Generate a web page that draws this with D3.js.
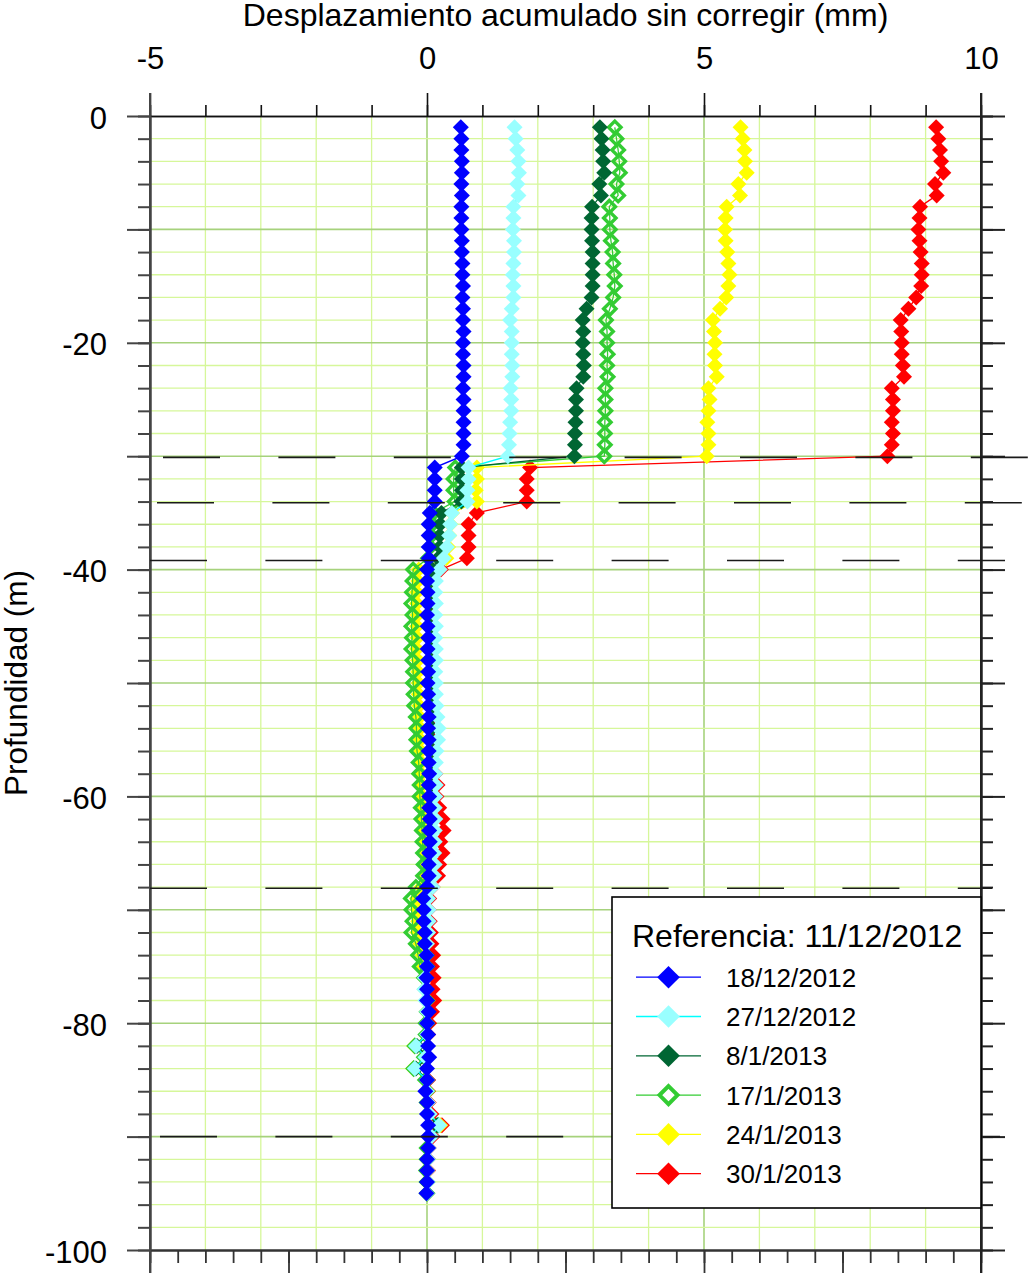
<!DOCTYPE html>
<html><head><meta charset="utf-8">
<script src="https://cdn.jsdelivr.net/npm/d3@7"></script>
<style>body{margin:0;background:#fff} svg{display:block;font-family:"Liberation Sans",Arial,sans-serif}</style>
</head><body><svg id="chart" width="1028" height="1275"></svg>
<script>
// ---------------- DATA ----------------
const depths = [-1,-2,-3,-4,-5,-6,-7,-8,-9,-10,-11,-12,-13,-14,-15,-16,-17,-18,-19,-20,
-21,-22,-23,-24,-25,-26,-27,-28,-29,-30,-31,-32,-33,-34,-35,-36,-37,-38,-39,-40,
-41,-42,-43,-44,-45,-46,-47,-48,-49,-50,-51,-52,-53,-54,-55,-56,-57,-58,-59,-60,
-61,-62,-63,-64,-65,-66,-67,-68,-69,-70,-71,-72,-73,-74,-75,-76,-77,-78,-79,-80,
-81,-82,-83,-84,-85,-86,-87,-88,-89,-90,-91,-92,-93,-94,-95];

const serie18dic2012 = [0.61,0.62,0.62,0.63,0.63,0.62,0.63,0.62,0.62,0.62,
0.63,0.63,0.64,0.64,0.65,0.64,0.65,0.65,0.66,0.65,
0.65,0.66,0.66,0.65,0.66,0.66,0.66,0.66,0.66,0.63,
0.14,0.14,0.14,0.14,0.05,0.03,0.03,0.03,0.03,0.00,
0.00,0.01,0.01,0.00,0.01,0.02,0.01,0.02,0.02,0.01,
0.02,0.02,0.03,0.02,0.03,0.03,0.03,0.04,0.03,0.04,
0.04,0.05,0.04,0.05,0.04,0.03,0.03,0.00,-0.07,-0.06,
-0.06,-0.04,-0.04,-0.01,0.00,-0.01,0.00,0.00,0.03,0.00,
0.02,0.02,0.04,0.00,0.00,-0.03,0.00,0.00,0.02,0.02,
0.02,0.00,0.00,0.00,-0.01];

const serie27dic2012 = [1.58,1.60,1.63,1.65,1.66,1.63,1.65,1.56,1.56,1.55,
1.57,1.57,1.56,1.55,1.56,1.56,1.53,1.50,1.53,1.53,
1.53,1.54,1.54,1.51,1.52,1.52,1.50,1.49,1.48,1.46,
0.75,0.75,0.73,0.73,0.45,0.42,0.40,0.36,0.30,0.23,
0.16,0.15,0.16,0.15,0.16,0.15,0.16,0.16,0.15,0.16,
0.16,0.17,0.19,0.21,0.20,0.17,0.16,0.15,0.16,0.15,
0.14,0.15,0.14,0.14,0.13,0.14,0.13,0.10,0.02,0.03,
0.03,0.02,0.00,-0.01,0.00,-0.04,-0.05,-0.03,0.00,0.00,
0.00,-0.20,-0.03,-0.22,0.00,0.00,0.02,0.05,0.22,0.08,
0.03,0.02,0.01,0.01,0.00];

const serie8ene2013 = [3.12,3.15,3.17,3.18,3.20,3.11,3.14,2.98,2.97,2.97,
2.98,2.99,2.99,2.99,2.99,2.97,2.88,2.81,2.82,2.81,
2.82,2.83,2.82,2.70,2.69,2.69,2.68,2.67,2.67,2.66,
0.63,0.63,0.63,0.62,0.26,0.24,0.23,0.23,0.20,0.10,
0.06,0.05,0.06,0.05,0.06,0.07,0.06,0.07,0.08,0.07,
0.08,0.09,0.08,0.09,0.08,0.07,0.08,0.07,0.06,0.07,
0.06,0.07,0.06,0.07,0.06,0.05,0.05,0.02,-0.04,-0.03,
-0.03,-0.02,-0.02,0.00,0.01,-0.02,-0.02,0.00,0.02,0.01,
0.01,-0.18,0.02,-0.20,0.01,-0.01,0.01,0.03,0.18,0.04,
0.02,0.01,0.00,0.00,0.00];

const serie17ene2013 = [3.39,3.42,3.45,3.47,3.48,3.42,3.45,3.29,3.30,3.30,
3.32,3.35,3.36,3.38,3.39,3.36,3.30,3.23,3.25,3.25,
3.26,3.25,3.26,3.22,3.22,3.22,3.21,3.21,3.21,3.20,
0.51,0.48,0.48,0.50,0.12,0.10,0.08,0.06,0.02,-0.25,
-0.26,-0.27,-0.28,-0.26,-0.28,-0.27,-0.28,-0.26,-0.25,-0.25,
-0.24,-0.23,-0.20,-0.19,-0.19,-0.18,-0.15,-0.14,-0.13,-0.13,
-0.11,-0.10,-0.09,-0.08,-0.07,-0.06,-0.07,-0.20,-0.29,-0.28,
-0.26,-0.28,-0.20,-0.16,-0.13,-0.05,-0.03,0.00,0.00,-0.02,
-0.02,-0.22,-0.05,-0.24,-0.03,0.00,0.00,0.02,0.20,0.05,
0.00,0.00,-0.01,0.00,0.00];

const serie24ene2013 = [5.66,5.70,5.73,5.74,5.77,5.62,5.65,5.41,5.39,5.38,
5.39,5.42,5.44,5.46,5.44,5.40,5.29,5.16,5.18,5.20,
5.19,5.20,5.23,5.08,5.10,5.08,5.06,5.08,5.08,5.05,
0.90,0.90,0.88,0.90,0.45,0.42,0.40,0.38,0.35,-0.15,
-0.16,-0.18,-0.18,-0.17,-0.18,-0.17,-0.18,-0.16,-0.16,-0.15,
-0.15,-0.14,-0.13,-0.12,-0.12,-0.11,-0.10,-0.10,-0.08,-0.08,
-0.06,-0.05,-0.04,-0.04,-0.03,-0.02,-0.03,-0.10,-0.18,-0.17,
-0.16,-0.17,-0.12,-0.08,-0.06,-0.02,-0.01,0.01,0.01,0.00,
0.00,-0.23,-0.03,-0.25,-0.01,0.01,0.01,0.04,0.24,0.06,
0.01,0.01,0.00,0.00,0.00];

const serie30ene2013 = [9.19,9.23,9.26,9.28,9.32,9.17,9.20,8.90,8.89,8.87,
8.89,8.91,8.93,8.93,8.92,8.83,8.69,8.55,8.56,8.57,
8.57,8.59,8.61,8.39,8.41,8.41,8.39,8.41,8.39,8.31,
1.86,1.80,1.80,1.80,0.90,0.75,0.75,0.75,0.72,0.25,
0.10,0.08,0.09,0.10,0.08,0.09,0.10,0.10,0.09,0.10,
0.10,0.09,0.10,0.08,0.10,0.10,0.12,0.15,0.19,0.17,
0.22,0.28,0.30,0.24,0.28,0.22,0.20,0.10,0.04,0.03,
0.05,0.07,0.08,0.11,0.09,0.12,0.10,0.13,0.09,0.04,
0.02,-0.22,0.01,-0.24,0.02,0.02,0.03,0.08,0.27,0.10,
0.03,0.02,0.02,0.00,0.00];

const seriesNames = ["18/12/2012","27/12/2012","8/1/2013","17/1/2013","24/1/2013","30/1/2013"];
const legendTitle = "Referencia: 11/12/2012";
const xTitle = "Desplazamiento acumulado sin corregir (mm)";
const yTitle = "Profundidad (m)";
const xTickLabels = [-5,0,5,10];
const yTickLabels = [0,-20,-40,-60,-80,-100];
const boundaryDepths = [-30.1,-34.1,-39.2,-68.1,-90.0];

// ---------------- STYLE ----------------
const seriesValues = [serie18dic2012,serie27dic2012,serie8ene2013,serie17ene2013,serie24ene2013,serie30ene2013];
const lineColors  = ["#0000ff","#00ffff","#006633","#33cc33","#ffff00","#ff0000"];
const markColors  = ["#0000ff","#99ffff","#006633","#33cc33","#ffff00","#ff0000"];
const hollow      = [false,false,false,true,false,false];
const dashStart   = [163,157,150,150,160];
const dashEnd     = [1028,1023,1005,992,1000];

const svg = d3.select("#chart");
const x = d3.scaleLinear().domain([-5,10]).range([150,981]);
const y = d3.scaleLinear().domain([0,-100]).range([116,1250]);
const X0 = x.range()[0], X1 = x.range()[1], Y0 = y.range()[0], Y1 = y.range()[1];

const diamond = r => `M0,${-r}L${r},0L0,${r}L${-r},0Z`;

// grid
const minorGrid = "#d6f79a", majorGrid = "#a6d27c";
const g = svg.append("g");
x.ticks(15).forEach(v => {
  if (v === -5 || v === 10) return;
  g.append("line").attr("x1",x(v)).attr("x2",x(v)).attr("y1",Y0).attr("y2",Y1)
    .attr("stroke", v % 5 === 0 ? majorGrid : minorGrid).attr("stroke-width", v%5===0?1.6:1.3);
});
y.ticks(50).forEach(v => {
  if (v === 0 || v === -100) return;
  g.append("line").attr("x1",X0).attr("x2",X1).attr("y1",y(v)).attr("y2",y(v))
    .attr("stroke", v % 10 === 0 ? majorGrid : minorGrid).attr("stroke-width", v%10===0?1.6:1.3);
});

// axes
function styleAxis(sel, color, w){
  sel.selectAll("path").attr("stroke",color).attr("stroke-width",w);
  sel.selectAll("line").attr("stroke",color).attr("stroke-width",w);
}
// top
svg.append("g").attr("transform",`translate(0,${Y0})`)
  .call(d3.axisTop(x).tickValues(x.ticks(15)).tickSize(11).tickFormat("").tickSizeOuter(0))
  .call(s=>styleAxis(s,"#111",1.6));
const topMajor = svg.append("g").attr("transform",`translate(0,${Y0})`)
  .call(d3.axisTop(x).tickValues(xTickLabels).tickSize(23).tickSizeOuter(0))
  .call(s=>styleAxis(s,"#111",1.6));
topMajor.selectAll("text").attr("y",-47).attr("dy",null).attr("font-size",31)
  .attr("font-family",'"Liberation Sans",Arial,sans-serif').attr("fill","#000")
  .text(v => String(v));
// bottom
svg.append("g").attr("transform",`translate(0,${Y1})`)
  .call(d3.axisBottom(x).tickValues(d3.range(-5,10.01,0.5)).tickSize(13).tickFormat("").tickSizeOuter(0))
  .call(s=>styleAxis(s,"#333",1.8));
svg.append("g").attr("transform",`translate(0,${Y1})`)
  .call(d3.axisBottom(x).tickValues(d3.range(-5,10.01,2.5)).tickSize(23).tickFormat("").tickSizeOuter(0))
  .call(s=>styleAxis(s,"#333",1.8));
// left
svg.append("g").attr("transform",`translate(${X0},0)`)
  .call(d3.axisLeft(y).tickValues(y.ticks(50)).tickSize(12).tickFormat("").tickSizeOuter(0))
  .call(s=>styleAxis(s,"#444",2));
const leftMajor = svg.append("g").attr("transform",`translate(${X0},0)`)
  .call(d3.axisLeft(y).tickValues(y.ticks(10)).tickSize(23)
    .tickFormat(v => yTickLabels.includes(v) ? String(v) : "").tickSizeOuter(0))
  .call(s=>styleAxis(s,"#444",2));
leftMajor.selectAll("text").attr("x",-43).attr("dy","0.39em").attr("font-size",31)
  .attr("font-family",'"Liberation Sans",Arial,sans-serif').attr("fill","#000");
// right
svg.append("g").attr("transform",`translate(${X1},0)`)
  .call(d3.axisRight(y).tickValues(y.ticks(50)).tickSize(12).tickFormat("").tickSizeOuter(0))
  .call(s=>styleAxis(s,"#222",2));
svg.append("g").attr("transform",`translate(${X1},0)`)
  .call(d3.axisRight(y).tickValues(y.ticks(10)).tickSize(24).tickFormat("").tickSizeOuter(0))
  .call(s=>styleAxis(s,"#222",2));
// extend vertical axes lines to major tick ends
svg.append("line").attr("x1",X0).attr("x2",X0).attr("y1",Y0-23).attr("y2",Y1+23).attr("stroke","#444").attr("stroke-width",2);
svg.append("line").attr("x1",X1).attr("x2",X1).attr("y1",Y0-23).attr("y2",Y1+23).attr("stroke","#222").attr("stroke-width",2);

// titles
svg.append("text").attr("x",(X0+X1)/2).attr("y",26).attr("text-anchor","middle")
  .attr("font-size",32).attr("fill","#000").text(xTitle);
svg.append("text").attr("transform",`translate(27,${(Y0+Y1)/2}) rotate(-90)`).attr("text-anchor","middle")
  .attr("font-size",31.5).attr("fill","#000").text(yTitle);

// series (bottom-most = last legend entry)
const line = d3.line().x(d=>x(d.v)).y(d=>y(d.d));
const plot = svg.append("g");
for (let i = seriesValues.length-1; i >= 0; i--) {
  const pts = depths.map((d,k)=>({d, v: seriesValues[i][k]}));
  const sg = plot.append("g");
  sg.append("path").attr("d", line(pts)).attr("fill","none")
    .attr("stroke", lineColors[i]).attr("stroke-width",1.3);
  sg.selectAll("path.m").data(pts).join("path").attr("class","m")
    .attr("transform", p=>`translate(${x(p.v)},${y(p.d)})`)
    .attr("d", hollow[i] ? diamond(6.2) : diamond(8))
    .attr("fill", hollow[i] ? "none" : markColors[i])
    .attr("stroke", hollow[i] ? markColors[i] : "none")
    .attr("stroke-width", hollow[i] ? 3.4 : 0);
}

// boundary dashed lines
boundaryDepths.forEach((d,i)=>{
  svg.append("line").attr("x1",dashStart[i]).attr("x2",dashEnd[i]).attr("y1",y(d)).attr("y2",y(d))
    .attr("stroke","#1a1a1a").attr("stroke-width",1.6).attr("stroke-dasharray","57,58.4");
});

// legend
const lg = svg.append("g");
lg.append("rect").attr("x",612).attr("y",897).attr("width",369).attr("height",311)
  .attr("fill","#fff").attr("stroke","#000").attr("stroke-width",1.6);
lg.append("text").attr("x",632).attr("y",947).attr("font-size",32).attr("fill","#000").text(legendTitle);
seriesNames.forEach((name,i)=>{
  const by = 986.7 + 39.3*i, ly = by - 9.5;
  lg.append("line").attr("x1",636).attr("x2",701).attr("y1",ly).attr("y2",ly)
    .attr("stroke",lineColors[i]).attr("stroke-width",1.3);
  lg.append("path").attr("transform",`translate(668.5,${ly})`)
    .attr("d", hollow[i] ? diamond(9) : diamond(11.3))
    .attr("fill", hollow[i] ? "#fff" : markColors[i])
    .attr("stroke", hollow[i] ? markColors[i] : "none").attr("stroke-width", hollow[i]?4:0);
  lg.append("text").attr("x",726).attr("y",by).attr("font-size",26).attr("fill","#000").text(name);
});
</script></body></html>
